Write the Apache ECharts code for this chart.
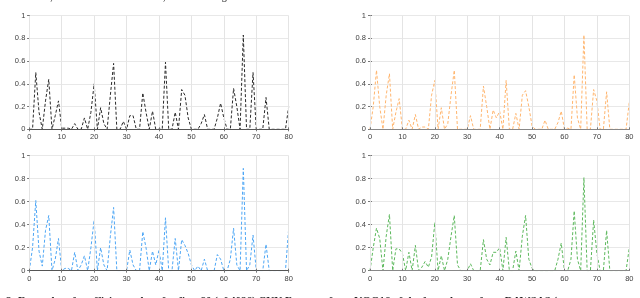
<!DOCTYPE html>
<html><head><meta charset="utf-8">
<script src="https://cdn.jsdelivr.net/npm/echarts@6/dist/echarts.min.js"></script>
<style>html,body{margin:0;padding:0;background:#fff}#c{width:640px;height:298px}</style>
</head><body><div id="c"></div>
<script>
// x positions 0..80 (feature index)
const xTicks = [0,10,20,30,40,50,60,70,80];
const yTicks = [0,0.2,0.4,0.6,0.8,1];
const blackVals = [0,0,0.5,0.15,0,0.25,0.44,0,0.12,0.25,0.01,0.01,0.01,0,0.05,0,0,0.1,0,0.15,0.4,0,0.19,0.05,0,0.3,0.58,0,0,0.07,0,0.12,0.12,0,0,0.32,0.15,0,0.16,0,0,0,0.59,0,0,0.15,0,0.35,0.3,0.1,0,0,0,0.05,0.13,0,0,0,0.1,0.23,0.1,0,0,0.36,0.2,0,0.83,0,0,0.5,0,0,0,0.28,0,0,0,0,0,0,0.2];
const orangeVals = [0,0.2,0.52,0.2,0,0.3,0.49,0,0.15,0.27,0,0,0.08,0,0.13,0,0.02,0.02,0,0.3,0.43,0,0.19,0,0.05,0.3,0.52,0,0,0,0,0.12,0,0,0,0.38,0.2,0,0.17,0.1,0.16,0,0.43,0,0,0.14,0,0.3,0.34,0.2,0.03,0,0,0,0.08,0,0,0,0.06,0.16,0,0.01,0,0.48,0.1,0,0.83,0,0,0.35,0.25,0,0,0.33,0,0,0,0,0,0,0.24];
const blueVals = [0,0.2,0.61,0.17,0.04,0.35,0.48,0,0.1,0.28,0,0.02,0.02,0,0.16,0,0.05,0.13,0,0.2,0.44,0,0.2,0.05,0,0.3,0.55,0,0,0,0,0.18,0.05,0,0,0.34,0.2,0,0.17,0.05,0.18,0,0.46,0,0,0.28,0,0.27,0.22,0.15,0.05,0,0.04,0,0.1,0,0,0,0.14,0.1,0,0,0.1,0.37,0.05,0,0.89,0,0.05,0.31,0,0,0,0.23,0,0,0,0,0,0,0.37];
const greenVals = [0,0.2,0.37,0.28,0,0.3,0.49,0,0.19,0.19,0.15,0,0.16,0,0.22,0,0.03,0.08,0.03,0.12,0.42,0,0.13,0,0.1,0.3,0.48,0.05,0,0,0,0.06,0,0,0,0.27,0.1,0.05,0.16,0.16,0.2,0,0.29,0,0,0.17,0,0.3,0.48,0.1,0.02,0,0,0,0,0,0,0,0.1,0.24,0,0,0.1,0.52,0.1,0,0.81,0,0,0.44,0.15,0,0,0.35,0,0,0,0,0,0,0.2];
const topCaption = "at the second, bottom left from the fourth, and bottom right from the fifth.";
const bottomCaption = "2: Examples of coefficient values for first 80 (of 4096) CNN Features from VGG16 of the four classes from DAWSAS (a";

const panels = [
  {vals: blackVals, color: '#2a2a2a', left: 29.3, top: 15.7, width: 259.4, height: 113.6, box: true},
  {vals: orangeVals, color: '#ffb56e', left: 370, top: 15.7, width: 259.3, height: 113.6, box: false},
  {vals: blueVals, color: '#4da6f5', left: 29.3, top: 155.7, width: 259.4, height: 115, box: true},
  {vals: greenVals, color: '#5cb85c', left: 370, top: 155.7, width: 259.3, height: 115, box: false}
];
const lab = {fontSize: 7.5, color: '#404040', fontFamily: 'Liberation Sans'};
const grid=[], xAxis=[], yAxis=[], series=[];
panels.forEach((p,i)=>{
  grid.push({left:p.left, top:p.top, width:p.width, height:p.height});
  xAxis.push({type:'value', gridIndex:i, min:0, max:80, interval:10, position:'bottom', z:5,
    axisLine:{show:true, onZero:false, lineStyle:{color:p.box?'#555':'#888', width:1}},
    axisTick:{show:true, inside:true, length:2, lineStyle:{color:'#777'}},
    axisLabel:Object.assign({margin:4}, lab),
    splitLine:{show:true, lineStyle:{color:'#e4e4e4', width:1}}});
  xAxis.push({type:'value', gridIndex:i, min:0, max:80, interval:10, position:'top',
    axisLine:{show:true, lineStyle:{color:'#666', width:1}},
    axisTick:{show:p.box, inside:true, length:2, lineStyle:{color:'#777'}},
    axisLabel:{show:false}, splitLine:{show:false}});
  yAxis.push({type:'value', gridIndex:i, min:0, max:1, interval:0.2, position:'left',
    axisLine:{show:p.box, lineStyle:{color:'#555', width:1}},
    axisTick:{show:true, inside:!p.box, length:2, lineStyle:{color:'#777'}},
    axisLabel:Object.assign({margin:4}, lab),
    splitLine:{show:true, lineStyle:{color:'#e8e8e8', width:1}}});
  yAxis.push({type:'value', gridIndex:i, min:0, max:1, interval:0.2, position:'right',
    axisLine:{show:p.box, lineStyle:{color:'#555', width:1}},
    axisTick:{show:true, inside:true, length:2, lineStyle:{color:'#777'}},
    axisLabel:{show:false}, splitLine:{show:false}});
  series.push({type:'line', xAxisIndex:2*i, yAxisIndex:2*i, showSymbol:false, animation:false,
    data:p.vals.map((v,k)=>[k,v]),
    lineStyle:{color:p.color, width:1, type:[3,2]}});
});
const chart = echarts.init(document.getElementById('c'), null, {renderer:'canvas'});
chart.setOption({animation:false, grid, xAxis, yAxis, series,
  graphic:[
    {type:'text', left:-2, top:-8, style:{text:topCaption, font:'10px "Liberation Serif"', fill:'#222'}},
    {type:'text', left:6, top:296, style:{text:bottomCaption, font:'bold 11px "Liberation Serif"', fill:'#222'}}
  ]});
</script></body></html>
